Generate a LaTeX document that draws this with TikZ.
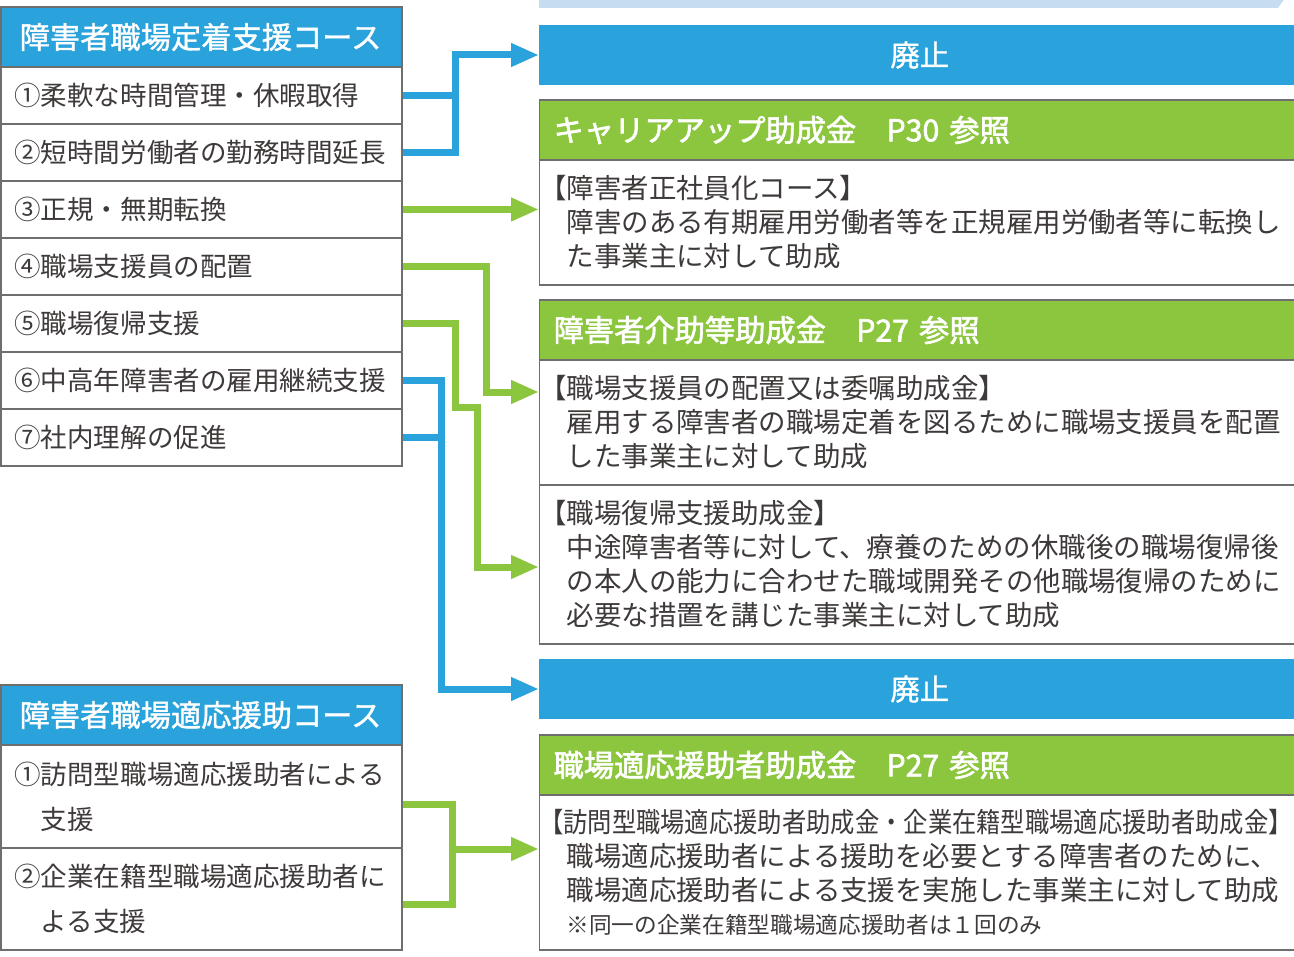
\documentclass[tikz,border=0pt]{standalone}
\usepackage{fontspec}
\setmainfont{Noto Sans CJK JP}
\newfontfamily\hdfont[FakeBold=2]{Noto Sans CJK JP}
\newfontfamily\hdfontl[FakeBold=1.3]{Noto Sans CJK JP}
\usetikzlibrary{arrows.meta}
\definecolor{cblue}{HTML}{2AA3DC}
\definecolor{cgreen}{HTML}{8CC63F}
\definecolor{cgray}{HTML}{6E6E6E}
\definecolor{ctext}{HTML}{3E3A39}
\definecolor{clight}{HTML}{C5DCF1}
\tikzset{
  rowtxt/.style={font=\fontsize{19.9pt}{33.75pt}\selectfont, text=ctext},
  lbox/.style={draw=cgray, line width=0.9pt, fill=white, minimum width=300.75pt,
    text width=280.75pt, inner xsep=10pt, inner ysep=0pt, align=left, rowtxt},
  lhead/.style={draw=cgray, line width=0.9pt, fill=cblue, minimum width=300.75pt,
    text width=272.75pt, inner xsep=14pt, inner ysep=0pt, minimum height=45pt, align=left,
    text=white, font=\hdfontl\fontsize{22.7pt}{26pt}\selectfont},
  haishi/.style={fill=cblue, anchor=west, minimum width=600pt, minimum height=45pt,
    inner sep=0pt, text=white, font=\hdfontl\fontsize{22pt}{26pt}\selectfont},
  ghead/.style={draw=cgray, line width=0.9pt, fill=cgreen, anchor=west, minimum height=45pt,
    text width=580pt, inner xsep=10.5pt, inner ysep=0pt, align=left, text=white,
    font=\hdfont\fontsize{22.7pt}{26pt}\selectfont},
  bbox/.style={draw=cgray, line width=0.9pt, fill=white, anchor=west, text width=545pt,
    inner xsep=20.25pt, inner ysep=0pt, align=left, text=ctext,
    font=\fontsize{20.6pt}{25.5pt}\selectfont},
  bline/.style={draw=cblue, line width=5.25pt, line join=miter},
  gline/.style={draw=cgreen, line width=5.25pt, line join=miter},
  barrow/.style={bline, -{Triangle[length=21pt,width=16.5pt]}},
  garrow/.style={gline, -{Triangle[length=21pt,width=16.5pt]}},
}
\begin{document}
\begin{tikzpicture}[x=0.75pt,y=-0.75pt]
\useasboundingbox (0,0) rectangle (1294,956);
\fill[white] (0,0) rectangle (1294,956);

% top strip
\fill[clight] (539,-5) -- (1287,-5) -- (1278,8) -- (539,8) -- cycle;

% left table 1
\node[lhead] (hd1) at (201.5,37) {障害者職場定着支援コース};
\node[lbox, minimum height=42.75pt] (r1) at (201.5,95.5) {①柔軟な時間管理・休暇取得};
\node[lbox, minimum height=42.75pt] (r2) at (201.5,152.5) {②短時間労働者の勤務時間延長};
\node[lbox, minimum height=42.75pt] (r3) at (201.5,209.5) {③正規・無期転換};
\node[lbox, minimum height=42.75pt] (r4) at (201.5,266.5) {④職場支援員の配置};
\node[lbox, minimum height=42.75pt] (r5) at (201.5,323.5) {⑤職場復帰支援};
\node[lbox, minimum height=42.75pt] (r6) at (201.5,380.5) {⑥中高年障害者の雇用継続支援};
\node[lbox, minimum height=42.75pt] (r7) at (201.5,437.5) {⑦社内理解の促進};

% left table 2
\node[lhead] (hd2) at (201.5,715) {障害者職場適応援助コース};
\node[lbox, minimum height=77.25pt] (s1) at (201.5,796.5) {①訪問型職場適応援助者による\\\hspace*{1em}支援};
\node[lbox, minimum height=76.5pt] (s2) at (201.5,899) {②企業在籍型職場適応援助者に\\\hspace*{1em}よる支援};

% right column
\node[haishi, minimum width=570.75pt] (h1) at (539,55) {廃止};
\node[ghead] (g1) at (539,130) {キャリアアップ助成金　P30 参照};
\node[bbox, minimum height=93.75pt] (b1) at (539,222.5)
  {\hspace*{-1em}【障害者正社員化コース】\\障害のある有期雇用労働者等を正規雇用労働者等に転換し\\た事業主に対して助成};
\node[ghead] (g2) at (539,330) {障害者介助等助成金　P27 参照};
\node[bbox, minimum height=93.75pt] (b2a) at (539,422.5)
  {\hspace*{-1em}【職場支援員の配置又は委嘱助成金】\\雇用する障害者の職場定着を図るために職場支援員を配置\\した事業主に対して助成};
\node[bbox, minimum height=119.25pt] (b2b) at (539,564.5)
  {\hspace*{-1em}【職場復帰支援助成金】\\中途障害者等に対して、療養のための休職後の職場復帰後\\の本人の能力に合わせた職域開発その他職場復帰のために\\必要な措置を講じた事業主に対して助成};
\node[haishi, minimum width=570.75pt] (h2) at (539,689) {廃止};
\node[ghead] (g3) at (539,765) {職場適応援助者助成金　P27 参照};
\node[bbox, minimum height=116.25pt] (b3) at (539,872.5)
  {\hspace*{-1em}\scalebox{0.885}[1]{【訪問型職場適応援助者助成金・企業在籍型職場適応援助者助成金】}\\職場適応援助者による援助を必要とする障害者のために、\\職場適応援助者による支援を実施した事業主に対して助成\\[-1pt]{\fontsize{17pt}{20pt}\selectfont ※同一の企業在籍型職場適応援助者は１回のみ}};

% connectors
\coordinate (j1) at (455,55);
\draw[bline] (r1.east) -- (r1.east -| j1);
\draw[barrow] (r2.east) -| (j1) -- (h1.west);

\draw[garrow] (r3.east) -- (b1.west |- r3.east);

\coordinate (t4) at (539,392);
\draw[garrow] (r4.east) -- ++(84,0) |- (t4);

\coordinate (k5a) at (455,407);
\coordinate (k5b) at (477,407);
\coordinate (t5) at (539,567);
\draw[garrow] (r5.east) -| (k5a) -- (k5b) |- (t5);

\coordinate (j6) at (441,689);
\draw[bline] (r7.east) -- (r7.east -| j6);
\draw[barrow] (r6.east) -| (j6) -- (h2.west);

\coordinate (u1) at (452,804);
\coordinate (u2) at (452,904);
\coordinate (j8) at (452,849);
\draw[gline] (s1.east |- u1) -- (u1) -- (u2) -- (s2.east |- u2);
\draw[garrow] (j8) -- (b3.west |- j8);
\end{tikzpicture}
\end{document}
